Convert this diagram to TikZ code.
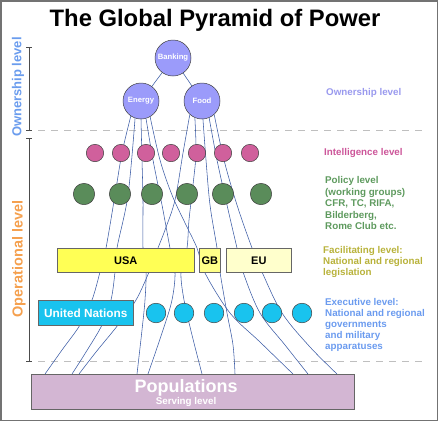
\documentclass[tikz,border=0pt]{standalone}
\usepackage{fontspec}
\setmainfont{Liberation Sans}
\definecolor{ownc}{HTML}{9B9BFA}
\definecolor{pinkc}{HTML}{D0609C}
\definecolor{greenc}{HTML}{5A8C5A}
\definecolor{usac}{HTML}{FFFF55}
\definecolor{gbc}{HTML}{FFFF88}
\definecolor{euc}{HTML}{FFFFCC}
\definecolor{cyanc}{HTML}{19C3EE}
\definecolor{popc}{HTML}{D3B6D3}
\definecolor{linec}{HTML}{3B5BA5}
\definecolor{ownlbl}{HTML}{9999EE}
\definecolor{intlbl}{HTML}{CC5599}
\definecolor{pollbl}{HTML}{5E9A5E}
\definecolor{faclbl}{HTML}{B8B23A}
\definecolor{exelbl}{HTML}{6B9BEF}
\definecolor{ownleft}{HTML}{6A9CEE}
\definecolor{opleft}{HTML}{F5A04E}
\begin{document}
\begin{tikzpicture}[x=1pt,y=-1pt,
  dot/.style={circle,draw=black!75,line width=0.5pt,inner sep=0pt},
  owncirc/.style={dot,fill=ownc,minimum size=36pt,text=white,font=\fontsize{7.7}{9}\selectfont\bfseries},
  pinkdot/.style={dot,fill=pinkc,minimum size=17.4pt},
  greendot/.style={dot,fill=greenc,minimum size=21.4pt},
  cyandot/.style={dot,fill=cyanc,minimum size=19.6pt},
  box/.style={draw=black!60,line width=0.6pt,inner sep=0pt,font=\fontsize{11}{13}\selectfont\bfseries},
  conn/.style={draw=linec,line width=0.55pt},
  lbl/.style={anchor=base west,inner sep=0pt,font=\fontsize{9.8}{11}\selectfont\bfseries},
  sep/.style={draw=black!25,line width=0.8pt,dash pattern=on 7pt off 6pt},
  brk/.style={draw=black!70,line width=0.6pt}
]
\useasboundingbox (0,0) rectangle (438,421);
\draw[draw=black!55,line width=1.5pt] (0.75,0.75) rectangle (437.25,420.25);

% title
\node[font=\fontsize{23.8}{26}\selectfont\bfseries,anchor=base,inner sep=0pt] (title) at (215,26) {The Global Pyramid of Power};

% separators
\coordinate (s1a) at (38,130); \coordinate (s1b) at (422,130);
\coordinate (s2a) at (38,361); \coordinate (s2b) at (422,361);
\draw[sep] (s1a) -- (s1b);
\draw[sep] (s2a) -- (s2b);

% brackets
\coordinate (b1t) at (29,47); \coordinate (b1b) at (29,130);
\coordinate (b2t) at (29,138); \coordinate (b2b) at (29,361);
\draw[brk] (b1t) -- (b1b);
\draw[brk] ([xshift=-3pt]b1t) -- ([xshift=3pt]b1t);
\draw[brk] ([xshift=-3pt]b1b) -- ([xshift=3pt]b1b);
\draw[brk] (b2t) -- (b2b);
\draw[brk] ([xshift=-3pt]b2t) -- ([xshift=3pt]b2t);
\draw[brk] ([xshift=-3pt]b2b) -- ([xshift=3pt]b2b);
\node[rotate=90,text=ownleft,font=\fontsize{13}{15}\selectfont\bfseries,inner sep=0pt] (ownL) at (18,87) {Ownership level};
\node[rotate=90,text=opleft,font=\fontsize{14.5}{16}\selectfont\bfseries,inner sep=0pt] (opL) at (19,259) {Operational level};

% populations box
\node[box,fill=popc,minimum width=323pt,minimum height=35pt,anchor=north west] (pop) at (31,374) {};

% ownership circles
\node[owncirc] (bank) at (173,58) {Banking};
\node[owncirc] (energy) at (141,101) {Energy};
\node[owncirc] (food) at (202,101) {Food};

% connectors
\draw[conn] (bank) -- (energy);
\draw[conn] (bank) -- (food);
\draw[conn] plot[smooth,tension=0.55] coordinates {(energy.-124) (122,153) (115,195) (106,248) (100,272) (92,300) (80,325) (62,350) (45,0 |- pop.north)};
\draw[conn] plot[smooth,tension=0.55] coordinates {(energy.-109) (128,195) (117,248) (115,272) (111,300) (102,325) (86,352) (72,0 |- pop.north)};
\draw[conn] plot[smooth,tension=0.55] coordinates {(energy.-90) (142,160) (143,200) (143,248) (146,272) (145,300) (142,330) (137,0 |- pop.north)};
\draw[conn] plot[smooth,tension=0.55] coordinates {(energy.-74) (153,160) (162,205) (170,248) (175,272) (172,300) (163,330) (148,0 |- pop.north)};
\draw[conn] plot[smooth,tension=0.55] coordinates {(energy.-60) (160,160) (172,195) (186,225) (197,248) (205,273) (230,313) (260,342) (293,0 |- pop.north)};
\draw[conn] plot[smooth,tension=0.55] coordinates {(food.-132) (183,153) (175,200) (165,230) (158,248) (149,272) (136,300) (118,325) (96,352) (79,0 |- pop.north)};
\draw[conn] plot[smooth,tension=0.55] coordinates {(food.-113) (196,153) (193,185) (189,220) (187,248) (181,272) (184,300) (192,335) (202,0 |- pop.north)};
\draw[conn] plot[smooth,tension=0.55] coordinates {(food.-87) (206,160) (210,205) (217,248) (220,272) (227,313) (233,345) (235,0 |- pop.north)};
\draw[conn] plot[smooth,tension=0.55] coordinates {(food.-67) (217,160) (227,205) (237,248) (243,272) (260,313) (285,345) (308,0 |- pop.north)};
\draw[conn] plot[smooth,tension=0.55] coordinates {(food.-48) (224,160) (237,205) (252,248) (262,272) (282,313) (310,347) (337,0 |- pop.north)};

% intelligence
\foreach \x [count=\i] in {95,121,146,171,197,223,250} \node[pinkdot] (int\i) at (\x,153) {};
% policy
\foreach \x [count=\i] in {84,120,152,187,223,261} \node[greendot] (pol\i) at (\x,194) {};
% facilitating
\node[box,fill=usac,minimum width=137pt,minimum height=24pt,anchor=north west] (usa) at (57,248) {USA};
\node[box,fill=gbc,minimum width=21pt,minimum height=24pt,anchor=north west] (gb) at (199,248) {GB};
\node[box,fill=euc,minimum width=65pt,minimum height=24pt,anchor=north west] (eu) at (226,248) {EU};
% executive
\node[box,fill=cyanc,text=white,font=\fontsize{11.8}{13}\selectfont\bfseries,minimum width=95pt,minimum height=25pt,anchor=north west] (un) at (38,300) {United Nations};
\foreach \x [count=\i] in {156,184,214,244,272,302} \node[cyandot] (exe\i) at (\x,313) {};

% populations text
\node[text=white,font=\fontsize{18}{20}\selectfont\bfseries,anchor=base,inner sep=0pt] (popt) at (186,392) {Populations};
\node[text=white,font=\fontsize{9.8}{11}\selectfont\bfseries,anchor=base,inner sep=0pt] (popst) at (186,404) {Serving level};

% right labels
\node[lbl,text=ownlbl] (r1) at (326,95.5) {Ownership level};
\node[lbl,text=intlbl] (r2) at (324,155.5) {Intelligence level};
\node[lbl,text=pollbl] (r3a) at (325,183.5) {Policy level};
\node[lbl,text=pollbl] (r3b) at (325,195) {(working groups)};
\node[lbl,text=pollbl] (r3c) at (325,206.5) {CFR, TC, RIFA,};
\node[lbl,text=pollbl] (r3d) at (325,218) {Bilderberg,};
\node[lbl,text=pollbl] (r3e) at (325,229.5) {Rome Club etc.};
\node[lbl,text=faclbl] (r4a) at (323,253.5) {Facilitating level:};
\node[lbl,text=faclbl] (r4b) at (323,264.5) {National and regional};
\node[lbl,text=faclbl] (r4c) at (323,275.5) {legislation};
\node[lbl,text=exelbl] (r5a) at (325,305.5) {Executive level:};
\node[lbl,text=exelbl] (r5b) at (325,316.5) {National and regional};
\node[lbl,text=exelbl] (r5c) at (325,327.5) {governments};
\node[lbl,text=exelbl] (r5d) at (325,338.5) {and military};
\node[lbl,text=exelbl] (r5e) at (325,349.5) {apparatuses};
\end{tikzpicture}
\end{document}
